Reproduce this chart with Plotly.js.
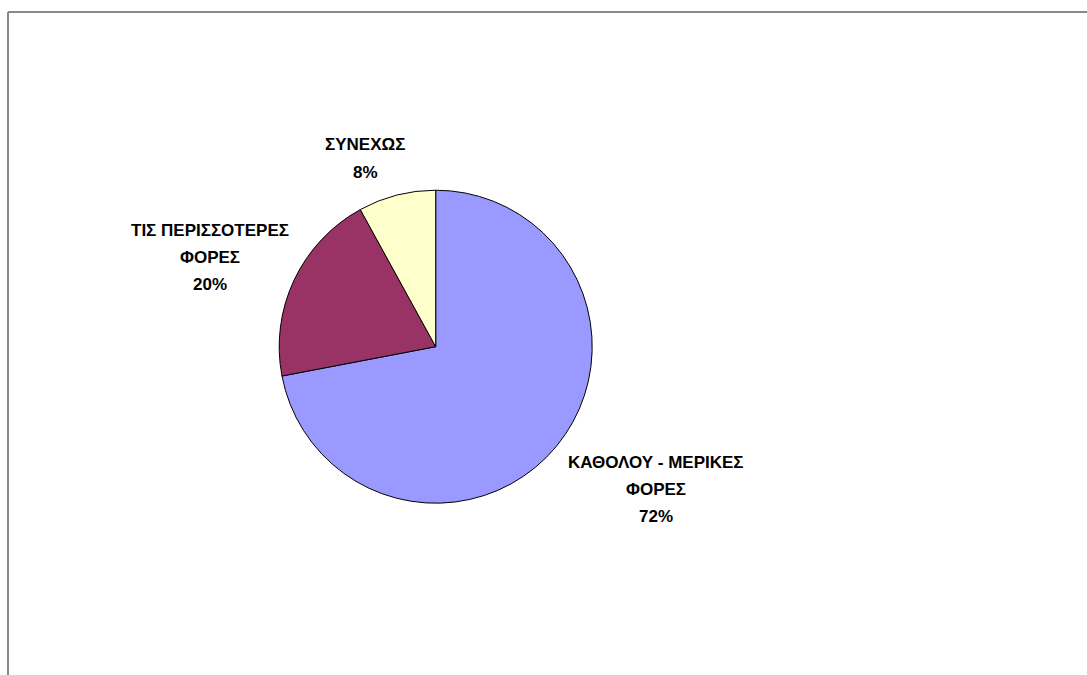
<!DOCTYPE html>
<html>
<head>
<meta charset="utf-8">
<script src="https://cdn.plot.ly/plotly-3.0.1.min.js"></script>
<style>html,body{margin:0;padding:0;background:#fff;}#chart{width:1087px;height:675px;}</style>
</head>
<body>
<div id="chart"></div>
<script>
const labels = ["ΚΑΘΟΛΟΥ - ΜΕΡΙΚΕΣ ΦΟΡΕΣ", "ΤΙΣ ΠΕΡΙΣΣΟΤΕΡΕΣ ΦΟΡΕΣ", "ΣΥΝΕΧΩΣ"];
const labelLines = [["ΚΑΘΟΛΟΥ - ΜΕΡΙΚΕΣ", "ΦΟΡΕΣ"], ["ΤΙΣ ΠΕΡΙΣΣΟΤΕΡΕΣ", "ΦΟΡΕΣ"], ["ΣΥΝΕΧΩΣ"]];
const values = [72, 20, 8];
const colors = ["#9999FF", "#993366", "#FFFFCC"];

const W = 1087, H = 675;
// label anchor (centre x, first line centre y) in pixels
const labelPos = [[656, 462], [210, 230], [365, 145]];
const lineStep = 27;

const total = values.reduce((a, b) => a + b, 0);
const annotations = [];
labels.forEach((l, i) => {
  const lines = labelLines[i].concat([Math.round(values[i] / total * 100) + "%"]);
  lines.forEach((t, j) => {
    annotations.push({
      xref: "paper", yref: "paper",
      x: labelPos[i][0] / W, y: 1 - (labelPos[i][1] + j * lineStep) / H,
      xanchor: "center", yanchor: "middle",
      text: "<b>" + t + "</b>", showarrow: false,
      font: {family: "Liberation Sans, Arial, sans-serif", size: 17, color: "#000"}
    });
  });
});

const cx = 435.7, cy = 346.7, r = 156.5;
const data = [{
  type: "pie",
  labels: labels,
  values: values,
  sort: false,
  direction: "clockwise",
  rotation: 0,
  marker: {colors: colors, line: {color: "#000", width: 1}},
  textinfo: "none",
  hoverinfo: "label+percent",
  domain: {x: [(cx - r) / W, (cx + r) / W], y: [1 - (cy + r) / H, 1 - (cy - r) / H]},
  showlegend: false
}];

const layout = {
  width: W, height: H,
  margin: {l: 0, r: 0, t: 0, b: 0},
  paper_bgcolor: "#fff",
  showlegend: false,
  annotations: annotations,
  shapes: [
    {type: "line", xref: "paper", yref: "paper", x0: 8 / W, x1: 1.01, y0: 1 - 12 / H, y1: 1 - 12 / H, line: {color: "#888", width: 2}},
    {type: "line", xref: "paper", yref: "paper", x0: 8 / W, x1: 8 / W, y0: 1 - 12 / H, y1: -0.01, line: {color: "#888", width: 2}}
  ]
};

Plotly.newPlot("chart", data, layout, {staticPlot: true, displayModeBar: false});
</script>
</body>
</html>
